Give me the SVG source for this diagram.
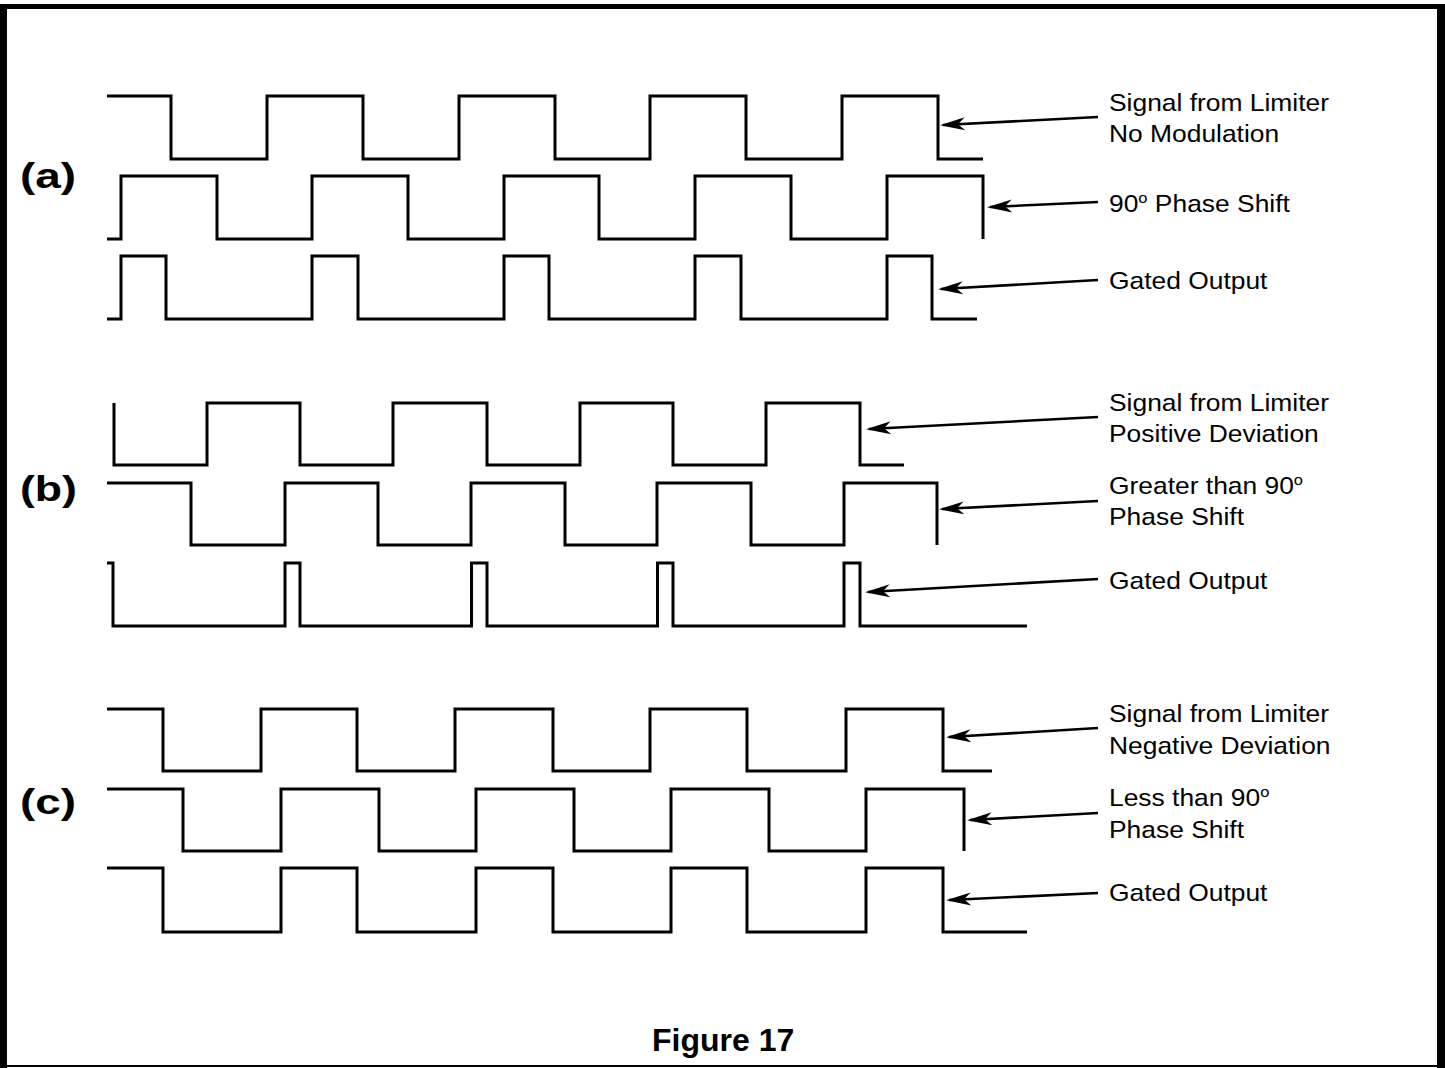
<svg xmlns="http://www.w3.org/2000/svg" width="1445" height="1068" viewBox="0 0 1445 1068">
<style>
.w{fill:none;stroke:#000;stroke-width:3;stroke-linejoin:miter}
.a{fill:none;stroke:#000;stroke-width:2.6}
.t{font-family:"Liberation Sans",Arial,sans-serif;font-size:24px;fill:#000}
.b{font-family:"Liberation Sans",Arial,sans-serif;font-weight:bold;fill:#000}
</style>
<defs>
<marker id="ah" markerUnits="userSpaceOnUse" viewBox="-28 -8 30 16" markerWidth="30" markerHeight="16" refX="-3" refY="0" orient="auto">
<path d="M0,0 L-25,-6.5 L-18,0 L-25,6.5 Z" fill="#000"/>
</marker>
</defs>
<rect x="0" y="0" width="1445" height="1068" fill="#fff"/>
<g id="border" fill="#000">
<rect x="0" y="4" width="7" height="1064"/>
<rect x="0" y="4" width="1445" height="5"/>
<rect x="1437" y="4" width="8" height="1064"/>
<rect x="0" y="1065" width="1445" height="2"/>
</g>
<g id="wave-a">
<path class="w" d="M107,96 H171 V159 H267 V96 H363 V159 H459 V96 H555 V159 H650 V96 H746 V159 H842 V96 H938 V159 H983"/>
<path class="w" d="M107,239 H121 V176 H217 V239 H312 V176 H408 V239 H504 V176 H599 V239 H695 V176 H791 V239 H887 V176 H983 V239"/>
<path class="w" d="M107,319 H121 V256 H166 V319 H312 V256 H358 V319 H504 V256 H549 V319 H695 V256 H741 V319 H887 V256 H932 V319 H977"/>
</g>
<g id="wave-b">
<path class="w" d="M114,403 V465 H207 V403 H300 V465 H393 V403 H487 V465 H580 V403 H673 V465 H766 V403 H860 V465 H904"/>
<path class="w" d="M107,483 H191 V545 H285 V483 H378 V545 H471 V483 H565 V545 H657 V483 H751 V545 H844 V483 H937 V545"/>
<path class="w" d="M107,563 H113 V626 H285 V563 H300 V626 H471.5 V563 H487 V626 H657.5 V563 H673 V626 H844 V563 H860 V626 H1027"/>
</g>
<g id="wave-c">
<path class="w" d="M107,709 H163 V771 H261 V709 H357 V771 H455 V709 H553 V771 H650 V709 H747 V771 H846 V709 H943 V771 H992"/>
<path class="w" d="M107,789 H183 V851 H281 V789 H379 V851 H476 V789 H574 V851 H671 V789 H769 V851 H866 V789 H964 V851"/>
<path class="w" d="M107,868 H163 V932 H281 V868 H357 V932 H476 V868 H553 V932 H671 V868 H747 V932 H866 V868 H943 V932 H1027"/>
</g>
<g id="connectors">
<line class="a" x1="1098" y1="117" x2="943" y2="125" marker-end="url(#ah)"/>
<line class="a" x1="1098" y1="202" x2="990" y2="207" marker-end="url(#ah)"/>
<line class="a" x1="1098" y1="280" x2="941" y2="289" marker-end="url(#ah)"/>
<line class="a" x1="1098" y1="417" x2="869" y2="429" marker-end="url(#ah)"/>
<line class="a" x1="1098" y1="501" x2="942" y2="509" marker-end="url(#ah)"/>
<line class="a" x1="1098" y1="579" x2="868" y2="592" marker-end="url(#ah)"/>
<line class="a" x1="1098" y1="728" x2="949" y2="737" marker-end="url(#ah)"/>
<line class="a" x1="1098" y1="813" x2="970" y2="820" marker-end="url(#ah)"/>
<line class="a" x1="1098" y1="893" x2="949" y2="900" marker-end="url(#ah)"/>
</g>
<g id="labels-a">
<text class="t" transform="translate(1109 111) scale(1.1 1)">Signal from Limiter</text>
<text class="t" transform="translate(1109 142) scale(1.1 1)">No Modulation</text>
<text class="t" transform="translate(1109 212) scale(1.1 1)">90<tspan font-size="15" dy="-9">o</tspan><tspan dy="9"> Phase Shift</tspan></text>
<text class="t" transform="translate(1109 289) scale(1.1 1)">Gated Output</text>
</g>
<g id="labels-b">
<text class="t" transform="translate(1109 411) scale(1.1 1)">Signal from Limiter</text>
<text class="t" transform="translate(1109 442) scale(1.1 1)">Positive Deviation</text>
<text class="t" transform="translate(1109 494) scale(1.1 1)">Greater than 90<tspan font-size="15" dy="-9">o</tspan></text>
<text class="t" transform="translate(1109 525) scale(1.1 1)">Phase Shift</text>
<text class="t" transform="translate(1109 589) scale(1.1 1)">Gated Output</text>
</g>
<g id="labels-c">
<text class="t" transform="translate(1109 722) scale(1.1 1)">Signal from Limiter</text>
<text class="t" transform="translate(1109 754) scale(1.1 1)">Negative Deviation</text>
<text class="t" transform="translate(1109 806) scale(1.1 1)">Less than 90<tspan font-size="15" dy="-9">o</tspan></text>
<text class="t" transform="translate(1109 838) scale(1.1 1)">Phase Shift</text>
<text class="t" transform="translate(1109 901) scale(1.1 1)">Gated Output</text>
</g>
<g id="section-labels">
<text class="b" x="20" y="188" font-size="35" textLength="56" lengthAdjust="spacingAndGlyphs">(a)</text>
<text class="b" x="20" y="501" font-size="35" textLength="57" lengthAdjust="spacingAndGlyphs">(b)</text>
<text class="b" x="20" y="814" font-size="35" textLength="56" lengthAdjust="spacingAndGlyphs">(c)</text>
</g>
<g id="caption">
<text class="b" x="652" y="1051" font-size="32">Figure 17</text>
</g>
</svg>
